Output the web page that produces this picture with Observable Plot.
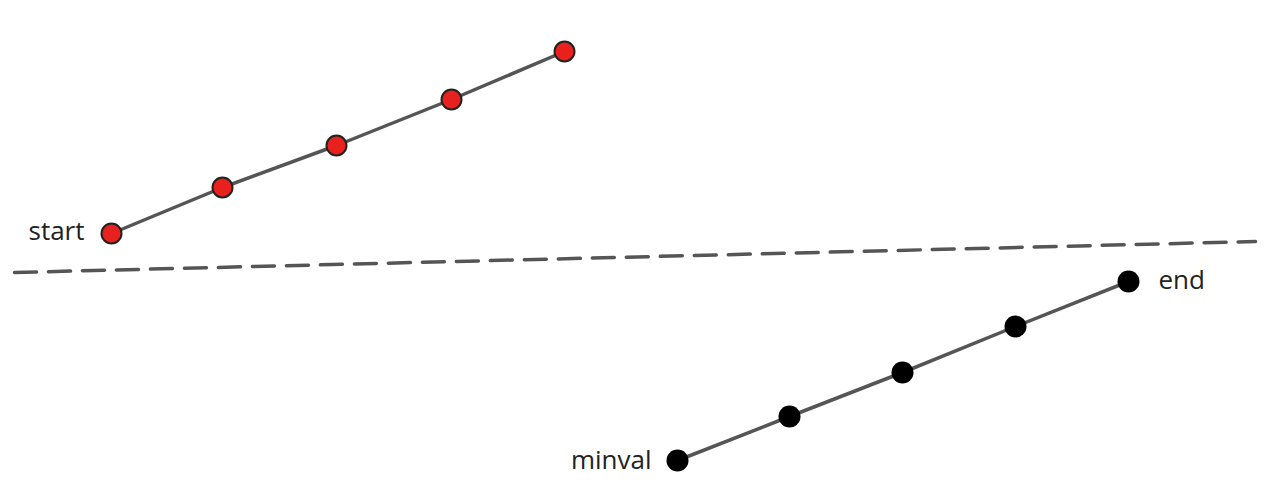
<!DOCTYPE html>
<html>
<head>
<meta charset="utf-8">
<script src="https://cdn.jsdelivr.net/npm/d3@7"></script>
<script src="https://cdn.jsdelivr.net/npm/@observablehq/plot@0.6"></script>
<style>
  html, body { margin: 0; padding: 0; background: #fff; }
</style>
</head>
<body>
<div id="chart"></div>
<script>
// positions (picture pixel units)
const redX = [111, 222, 336, 451, 564];
const redY = [233, 187, 145, 99, 51];
const blackX = [677, 789, 902, 1015, 1128];
const blackY = [460, 416, 372, 326, 281];
const dashX = [14, 1255];
const dashY = [272, 241];
const leftLabels = [
  {text: "start", x: 84, y: 231},
  {text: "minval", x: 651, y: 460}
];
const rightLabels = [
  {text: "end", x: 1158, y: 280}
];

const red = redX.map((x, i) => ({x, y: redY[i]}));
const black = blackX.map((x, i) => ({x, y: blackY[i]}));
const dash = dashX.map((x, i) => ({x, y: dashY[i]}));

const font = {fontSize: 26, fill: "#222", fontFamily: "Open Sans, sans-serif"};

const chart = Plot.plot({
  width: 1278,
  height: 502,
  margin: 0,
  x: {domain: [0, 1278], axis: null},
  y: {domain: [502, 0], axis: null},
  marks: [
    Plot.line(dash, {x: "x", y: "y", stroke: "#555", strokeWidth: 3.5, strokeDasharray: "22,12"}),
    Plot.line(red, {x: "x", y: "y", stroke: "#555", strokeWidth: 3.5}),
    Plot.line(black, {x: "x", y: "y", stroke: "#555", strokeWidth: 3.5}),
    Plot.dot(red, {x: "x", y: "y", r: 10, fill: "#e8201e", stroke: "#222", strokeWidth: 2}),
    Plot.dot(black, {x: "x", y: "y", r: 11, fill: "#000"}),
    Plot.text(leftLabels, {x: "x", y: "y", text: "text", textAnchor: "end", ...font}),
    Plot.text(rightLabels, {x: "x", y: "y", text: "text", textAnchor: "start", ...font})
  ]
});
document.getElementById("chart").appendChild(chart);
</script>
</body>
</html>
